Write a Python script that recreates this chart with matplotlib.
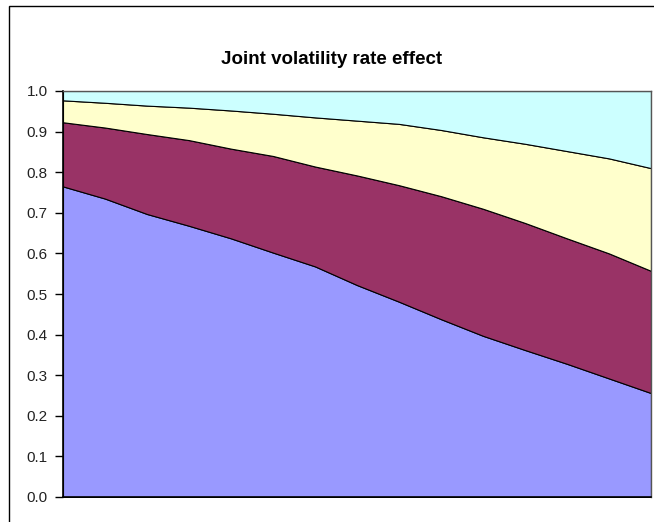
import matplotlib
matplotlib.use('Agg')
import matplotlib.pyplot as plt
from matplotlib.patches import Rectangle

# stacked series at 15 evenly spaced points
steps = list(range(15))
series_blue = [0.765, 0.735, 0.697, 0.668, 0.637, 0.602, 0.568, 0.522,
               0.481, 0.438, 0.397, 0.362, 0.328, 0.292, 0.256]
series_maroon = [0.158, 0.175, 0.197, 0.211, 0.221, 0.238, 0.246, 0.270,
                 0.287, 0.303, 0.313, 0.313, 0.309, 0.308, 0.301]
series_yellow = [0.054, 0.061, 0.070, 0.080, 0.094, 0.104, 0.121, 0.135,
                 0.151, 0.163, 0.176, 0.195, 0.215, 0.234, 0.253]
series_cyan = [0.023, 0.029, 0.036, 0.041, 0.048, 0.056, 0.065, 0.073,
               0.081, 0.096, 0.114, 0.130, 0.148, 0.166, 0.190]
colors = ['#9999FF', '#993366', '#FFFFCC', '#CCFFFF']
y_ticks = [0.0, 0.1, 0.2, 0.3, 0.4, 0.5, 0.6, 0.7, 0.8, 0.9, 1.0]

plt.rcParams['font.family'] = ['Liberation Sans', 'DejaVu Sans']

fig = plt.figure(figsize=(6.54, 5.22), dpi=100)
fig.patch.set_facecolor('white')

# outer chart border (only left and top are visible in the picture)
fig.patches.append(Rectangle((9 / 654, -0.2), 1.2, 1.2 - 5.5 / 522,
                             transform=fig.transFigure, fill=False,
                             edgecolor='black', linewidth=1.0))

ax = fig.add_axes([63 / 654, 1 - 497 / 522, 588 / 654, 406 / 522])
ax.stackplot(steps, series_blue, series_maroon, series_yellow, series_cyan,
             colors=colors, edgecolor='black', linewidth=0.8)

ax.set_xlim(steps[0], steps[-1])
ax.set_ylim(0, 1.0)
ax.set_yticks(y_ticks)
ax.set_yticklabels([f'{t:.1f}' for t in y_ticks], fontsize=11, color='#222222')
ax.set_xticks([])
ax.tick_params(axis='y', direction='out', length=6, width=1, pad=5)

for side in ['left', 'bottom']:
    ax.spines[side].set_color('black')
    ax.spines[side].set_linewidth(1.2)
for side in ['top', 'right']:
    ax.spines[side].set_color('#555555')
    ax.spines[side].set_linewidth(1.0)

fig.text(332 / 654, 1 - 59 / 522, 'Joint volatility rate effect',
         ha='center', va='center', fontsize=13.5, fontweight='bold')

fig.savefig('out.png', dpi=100)
